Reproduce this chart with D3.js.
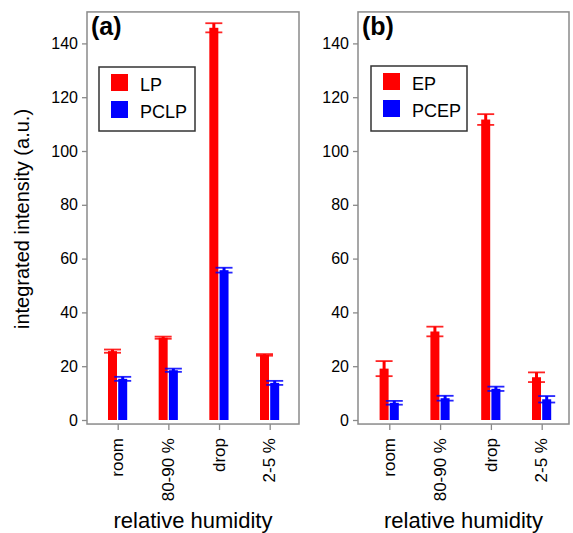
<!DOCTYPE html>
<html>
<head>
<meta charset="utf-8">
<script src="https://cdn.jsdelivr.net/npm/d3@7"></script>
<style>
  body { margin: 0; background: #fff; }
  text { font-family: "Liberation Sans", Arial, sans-serif; fill: #000; }
</style>
</head>
<body>
<svg id="chart" width="573" height="533"></svg>
<script>
var categories = ["room", "80-90 %", "drop", "2-5 %"];
var yTicks = [0, 20, 40, 60, 80, 100, 120, 140];

// panel (a)
var lpValues = [25.6, 30.6, 145.8, 24.2];
var lpErrors = [0.6, 0.4, 1.7, 0.3];
var pclpValues = [15.3, 18.5, 55.7, 13.8];
var pclpErrors = [0.75, 0.6, 0.9, 0.75];

// panel (b)
var epValues = [19.1, 32.9, 111.7, 15.9];
var epErrors = [2.8, 1.8, 2.0, 1.8];
var pcepValues = [6.4, 8.1, 11.6, 7.7];
var pcepErrors = [0.7, 0.9, 0.8, 1.2];

var svg = d3.select("#chart");

var y = d3.scaleLinear().domain([0, 140]).range([420, 43.4]);
var yMin = -1.5, yMax = 151.7;

var panels = [
  { tag: "(a)", left: 87, right: 299, xr: [117.7, 269.7],
    series: [
      { name: "LP", color: "#ff0000", values: lpValues, errors: lpErrors, off: -5.2 },
      { name: "PCLP", color: "#0000ff", values: pclpValues, errors: pclpErrors, off: 5.0 }
    ],
    legend: { x: 99, y: 67, w: 96, h: 64 } },
  { tag: "(b)", left: 358, right: 569, xr: [389.3, 541.7],
    series: [
      { name: "EP", color: "#ff0000", values: epValues, errors: epErrors, off: -5.2 },
      { name: "PCEP", color: "#0000ff", values: pcepValues, errors: pcepErrors, off: 5.0 }
    ],
    legend: { x: 371, y: 66, w: 96, h: 65 } }
];

var barW = 9, capW = 17;

panels.forEach(function(p) {
  var x = d3.scalePoint().domain(categories).range(p.xr);
  var g = svg.append("g");

  // bars + error bars
  p.series.forEach(function(s) {
    var data = categories.map(function(c, i) {
      return { cat: c, v: s.values[i], e: s.errors[i] };
    });
    g.selectAll(null).data(data).enter().append("rect")
      .attr("x", function(d) { return x(d.cat) + s.off - barW / 2; })
      .attr("y", function(d) { return y(d.v); })
      .attr("width", barW)
      .attr("height", function(d) { return y(0) - y(d.v); })
      .attr("fill", s.color);
    g.selectAll(null).data(data).enter().append("line")
      .attr("x1", function(d) { return x(d.cat) + s.off; })
      .attr("x2", function(d) { return x(d.cat) + s.off; })
      .attr("y1", function(d) { return y(d.v + d.e); })
      .attr("y2", function(d) { return y(d.v - d.e); })
      .attr("stroke", s.color).attr("stroke-width", 3);
    [1, -1].forEach(function(sign) {
      g.selectAll(null).data(data).enter().append("line")
        .attr("x1", function(d) { return x(d.cat) + s.off - capW / 2; })
        .attr("x2", function(d) { return x(d.cat) + s.off + capW / 2; })
        .attr("y1", function(d) { return y(d.v + sign * d.e); })
        .attr("y2", function(d) { return y(d.v + sign * d.e); })
        .attr("stroke", s.color).attr("stroke-width", 1.8).attr("opacity", 0.85);
    });
  });

  // frame
  g.append("rect")
    .attr("x", p.left).attr("y", y(yMax))
    .attr("width", p.right - p.left).attr("height", y(yMin) - y(yMax))
    .attr("fill", "none").attr("stroke", "#8a8a8a").attr("stroke-width", 1.5);

  // y axis
  var ya = g.append("g").attr("transform", "translate(" + p.left + ",0)")
    .call(d3.axisLeft(y).tickValues(yTicks).tickSize(5).tickPadding(4));
  ya.select(".domain").remove();
  ya.selectAll("line").attr("stroke", "#8a8a8a").attr("stroke-width", 1.3);
  ya.selectAll("text").style("font-size", "16px").attr("fill", "#000")
    .style("font-family", "'Liberation Sans', Arial, sans-serif");

  // x axis
  var xa = g.append("g").attr("transform", "translate(0," + y(yMin) + ")")
    .call(d3.axisBottom(x).tickSize(6).tickFormat(""));
  xa.select(".domain").remove();
  xa.selectAll("line").attr("stroke", "#8a8a8a").attr("stroke-width", 1.3);

  g.selectAll(null).data(categories).enter().append("text")
    .attr("transform", function(d) { return "translate(" + (x(d) + 5.6) + ",438) rotate(-90)"; })
    .attr("text-anchor", "end")
    .style("font-size", "17px")
    .text(function(d) { return d; });

  g.append("text")
    .attr("x", (p.left + p.right) / 2).attr("y", 528)
    .attr("text-anchor", "middle")
    .style("font-size", "22px")
    .text("relative humidity");

  g.append("text")
    .attr("x", p.left + 4).attr("y", 35)
    .style("font-size", "25px").style("font-weight", "bold")
    .text(p.tag);

  // legend
  var L = p.legend;
  g.append("rect")
    .attr("x", L.x).attr("y", L.y).attr("width", L.w).attr("height", L.h)
    .attr("fill", "#fff").attr("stroke", "#333").attr("stroke-width", 1.5);
  p.series.forEach(function(s, i) {
    g.append("rect")
      .attr("x", L.x + 12).attr("y", L.y + 7 + i * 27)
      .attr("width", 17).attr("height", 17)
      .attr("fill", s.color);
    g.append("text")
      .attr("x", L.x + 41).attr("y", L.y + 24 + i * 27)
      .style("font-size", "18px")
      .text(s.name);
  });
});

svg.append("text")
  .attr("transform", "translate(29,219) rotate(-90)")
  .attr("text-anchor", "middle")
  .style("font-size", "20px")
  .text("integrated intensity (a.u.)");
</script>
</body>
</html>
